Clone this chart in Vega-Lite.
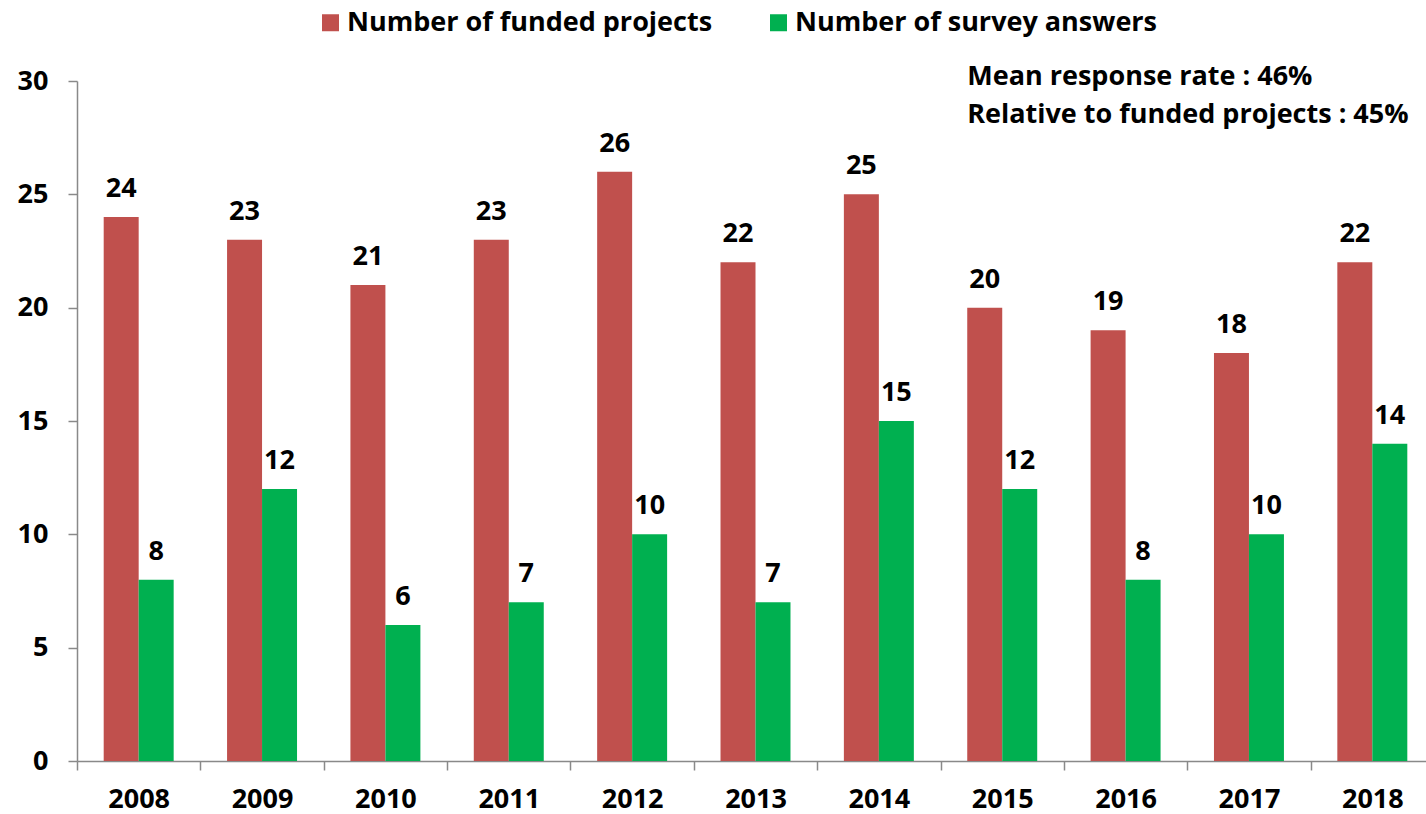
{
  "$schema": "https://vega.github.io/schema/vega-lite/v6.json",
  "width": 1349,
  "height": 680,
  "autosize": {"type": "none"},
  "padding": {"left": 77, "top": 81, "right": 0, "bottom": 53},
  "background": "white",
  "config": {"view": {"stroke": null}, "font": "Open Sans"},
  "data": {
    "values": [
      {"year": "2008", "series": "Number of funded projects", "value": 24},
      {"year": "2008", "series": "Number of survey answers", "value": 8},
      {"year": "2009", "series": "Number of funded projects", "value": 23},
      {"year": "2009", "series": "Number of survey answers", "value": 12},
      {"year": "2010", "series": "Number of funded projects", "value": 21},
      {"year": "2010", "series": "Number of survey answers", "value": 6},
      {"year": "2011", "series": "Number of funded projects", "value": 23},
      {"year": "2011", "series": "Number of survey answers", "value": 7},
      {"year": "2012", "series": "Number of funded projects", "value": 26},
      {"year": "2012", "series": "Number of survey answers", "value": 10},
      {"year": "2013", "series": "Number of funded projects", "value": 22},
      {"year": "2013", "series": "Number of survey answers", "value": 7},
      {"year": "2014", "series": "Number of funded projects", "value": 25},
      {"year": "2014", "series": "Number of survey answers", "value": 15},
      {"year": "2015", "series": "Number of funded projects", "value": 20},
      {"year": "2015", "series": "Number of survey answers", "value": 12},
      {"year": "2016", "series": "Number of funded projects", "value": 19},
      {"year": "2016", "series": "Number of survey answers", "value": 8},
      {"year": "2017", "series": "Number of funded projects", "value": 18},
      {"year": "2017", "series": "Number of survey answers", "value": 10},
      {"year": "2018", "series": "Number of funded projects", "value": 22},
      {"year": "2018", "series": "Number of survey answers", "value": 14}
    ]
  },
  "encoding": {
    "x": {
      "field": "year",
      "type": "nominal",
      "scale": {"range": [0, 1357], "paddingInner": 0, "paddingOuter": 0},
      "axis": {
        "title": null,
        "labelAngle": 0,
        "tickBand": "extent",
        "labelFontSize": 27,
        "labelFontWeight": "bold",
        "labelColor": "black",
        "domainColor": "#898989",
        "tickColor": "#898989",
        "domainWidth": 1.5,
        "tickWidth": 1.5,
        "tickSize": 9,
        "labelPadding": 16
      }
    }
  },
  "layer": [
    {
      "mark": {"type": "bar"},
      "encoding": {
        "xOffset": {"field": "series", "type": "nominal", "scale": {"domain": ["Number of funded projects", "Number of survey answers"], "paddingInner": 0, "paddingOuter": 0.763}},
        "y": {
          "field": "value",
          "type": "quantitative",
          "scale": {"domain": [0, 30], "nice": false},
          "axis": {
            "title": null,
            "grid": false,
            "values": [0, 5, 10, 15, 20, 25, 30],
            "labelFontSize": 27,
            "labelFontWeight": "bold",
            "labelColor": "black",
            "domainColor": "#898989",
            "tickColor": "#898989",
            "domainWidth": 1.5,
            "tickWidth": 1.5,
            "tickSize": 9,
            "labelPadding": 20
          }
        },
        "color": {
          "field": "series",
          "type": "nominal",
          "scale": {"domain": ["Number of funded projects", "Number of survey answers"], "range": ["#C0504D", "#00B050"]},
          "legend": {
            "orient": "none",
            "legendX": 240,
            "legendY": -72,
            "direction": "horizontal",
            "title": null,
            "symbolType": "square",
            "symbolSize": 289,
            "symbolStrokeWidth": 0,
            "labelFontSize": 27,
            "labelFontWeight": "bold",
            "labelColor": "black",
            "labelOffset": 3,
            "columnPadding": 52,
            "labelLimit": 600
          }
        }
      }
    },
    {
      "mark": {"type": "text", "baseline": "alphabetic", "dy": -20, "fontSize": 27, "fontWeight": "bold", "color": "black"},
      "encoding": {
        "xOffset": {"field": "series", "type": "nominal", "scale": {"domain": ["Number of funded projects", "Number of survey answers"], "paddingInner": 0, "paddingOuter": 0.763}},
        "y": {"field": "value", "type": "quantitative"},
        "text": {"field": "value", "type": "quantitative"}
      }
    },
    {
      "data": {"values": [{}]},
      "mark": {"type": "text", "align": "left", "baseline": "alphabetic", "dx": -35, "dy": 4, "lineHeight": 38, "fontSize": 27, "fontWeight": "bold", "color": "black"},
      "encoding": {
        "x": {"datum": "2015"},
        "y": {"datum": 30},
        "text": {"value": ["Mean response rate : 46%", "Relative to funded projects : 45%"]}
      }
    }
  ]
}
